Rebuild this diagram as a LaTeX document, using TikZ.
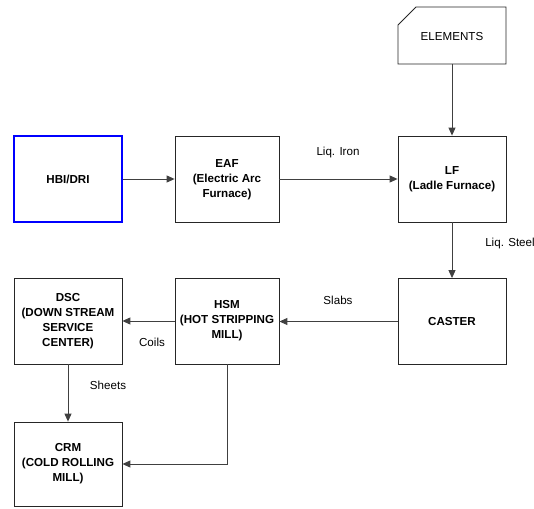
\documentclass[tikz,border=0pt]{standalone}
\usepackage{fontspec}
\setmainfont{Liberation Sans}
\usetikzlibrary{arrows.meta}
\begin{document}
\begin{tikzpicture}[x=1pt,y=-1pt,
  box/.style={draw=black!85,line width=0.8pt,minimum width=108pt,minimum height=86pt,
    font=\fontsize{11.6}{15}\selectfont\bfseries,align=center,inner sep=0pt},
  conn/.style={draw=black!75,line width=0.9pt,-{Triangle[length=8pt,width=7pt]}},
  lbl/.style={font=\fontsize{11.6}{13}\selectfont,inner sep=0pt}]
\useasboundingbox (0,0) rectangle (534,508);
\node[box,draw=blue,line width=2.6pt] (hbi) at (68,179) {HBI/DRI};
\node[box,minimum width=104pt] (eaf) at (227,179.5) {EAF\\(Electric Arc\\Furnace)};
\node[box] (lf) at (452,179) {LF\\(Ladle Furnace)};
\node[box] (caster) at (452,321.5) {CASTER};
\node[box,minimum width=104pt] (hsm) at (227,321) {HSM\\(HOT STRIPPING\\MILL)};
\node[box] (dsc) at (68,321) {DSC\\(DOWN STREAM\\SERVICE\\CENTER)};
\node[box,minimum height=84pt] (crm) at (68,464) {CRM\\(COLD ROLLING\\MILL)};
% ELEMENTS card shape
\draw[draw=black!85,line width=0.8pt] (398,25) -- (416,7) -- (506,7) -- (506,64) -- (398,64) -- cycle;
\coordinate (elb) at (452,64);
\node[lbl] (elt) at (452,37) {ELEMENTS};
\draw[conn] (elb) -- (lf.north);
\draw[conn] (hbi.east) -- (eaf.west |- hbi.east);
\draw[conn] (eaf.east |- lf.west) -- (lf.west);
\draw[conn] (lf.south) -- (caster.north);
\draw[conn] (caster.west) -- (hsm.east |- caster.west);
\draw[conn] (hsm.west) -- (dsc.east);
\draw[conn] (dsc.south) -- (crm.north);
\draw[conn] (hsm.south) |- (crm.east);
\node[lbl] (liron) at (338,152) {Liq. Iron};
\node[lbl] (lsteel) at (510,243) {Liq. Steel};
\node[lbl] (slabs) at (338,300) {Slabs};
\node[lbl] (coils) at (152,342) {Coils};
\node[lbl] (sheets) at (108,385) {Sheets};
\end{tikzpicture}
\end{document}
